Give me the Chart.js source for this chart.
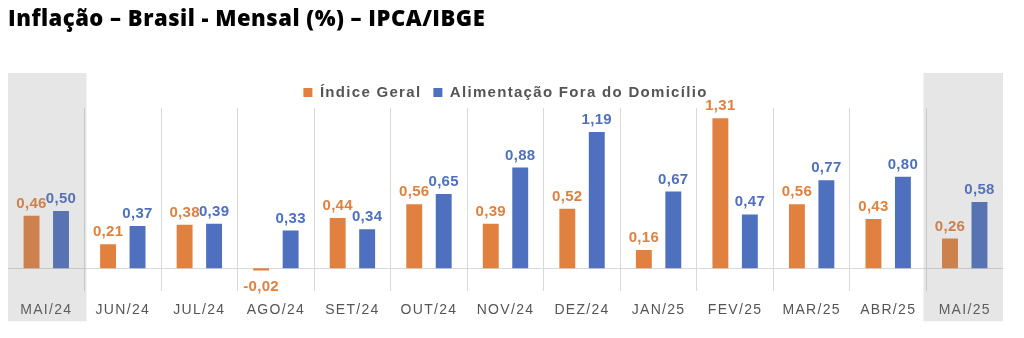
<!DOCTYPE html>
<html lang="pt-BR">
<head>
<meta charset="utf-8">
<title>IPCA mensal</title>
<script src="https://cdn.jsdelivr.net/npm/chart.js@4.4.1/dist/chart.umd.min.js"></script>
<style>
  html, body { margin: 0; padding: 0; background: #fff; }
  #wrap { position: relative; width: 1024px; height: 338px; overflow: hidden; }
  h1 {
    position: absolute; left: 8px; top: 3px; margin: 0;
    font: 800 22px/28px "Open Sans", Lato, sans-serif; color: #000;
    letter-spacing: 0.5px;
    z-index: 2;
  }
  canvas { position: absolute; left: 0; top: 0; }
</style>
</head>
<body>
<div id="wrap">
  <h1>Inflação – Brasil - Mensal (%) – IPCA/IBGE</h1>
  <canvas id="grafico" width="1024" height="338"></canvas>
</div>
<script>
const meses = ['MAI/24', 'JUN/24', 'JUL/24', 'AGO/24', 'SET/24', 'OUT/24', 'NOV/24',
  'DEZ/24', 'JAN/25', 'FEV/25', 'MAR/25', 'ABR/25', 'MAI/25'];
const indiceGeral = [0.46, 0.21, 0.38, -0.02, 0.44, 0.56, 0.39, 0.52, 0.16, 1.31, 0.56, 0.43, 0.26];
const alimentacaoFora = [0.50, 0.37, 0.39, 0.33, 0.34, 0.65, 0.88, 1.19, 0.67, 0.47, 0.77, 0.80, 0.58];
const mesesDestacados = [0, 12];

const LARANJA = '#E08140';
const AZUL = '#4E70BE';
const CINZA_TEXTO = '#555555';
const GRADE = '#D9D9D9';

const fmt = v => v.toFixed(2).replace('.', ',');

// espaçamento entre letras dos rótulos do eixo e da legenda
const espacamento = {
  id: 'espacamento',
  beforeUpdate(chart) { chart.ctx.letterSpacing = '1.3px'; },
  beforeDraw(chart) { chart.ctx.letterSpacing = '1.3px'; }
};

// linha do zero
const linhaZero = {
  id: 'linhaZero',
  beforeDatasetsDraw(chart) {
    const { ctx, chartArea, scales } = chart;
    const y = Math.round(scales.y.getPixelForValue(0)) + 0.5;
    ctx.save();
    ctx.strokeStyle = GRADE;
    ctx.lineWidth = 1;
    ctx.beginPath();
    ctx.moveTo(chartArea.left, y);
    ctx.lineTo(chartArea.right, y);
    ctx.stroke();
    ctx.restore();
  }
};

// valores acima (ou abaixo) das barras
const rotulos = {
  id: 'rotulos',
  afterDatasetsDraw(chart) {
    const { ctx } = chart;
    ctx.save();
    ctx.letterSpacing = '0.3px';
    ctx.font = 'bold 15px "Liberation Sans", Arial, sans-serif';
    ctx.textAlign = 'center';
    ctx.textBaseline = 'alphabetic';
    chart.data.datasets.forEach((ds, di) => {
      const meta = chart.getDatasetMeta(di);
      meta.data.forEach((bar, i) => {
        const v = ds.data[i];
        ctx.fillStyle = ds.backgroundColor;
        const y = v >= 0 ? bar.y - 8 : bar.y + 20;
        ctx.fillText(fmt(v), bar.x, y);
      });
    });
    ctx.restore();
  }
};

// faixas cinzas sobre o primeiro e o último mês
const destaque = {
  id: 'destaque',
  afterDraw(chart) {
    const { ctx, chartArea, scales } = chart;
    const x = scales.x;
    const n = meses.length;
    ctx.save();
    ctx.fillStyle = 'rgba(128,128,128,0.2)';
    mesesDestacados.forEach(i => {
      const meia = (x.getPixelForValue(1) - x.getPixelForValue(0)) / 2;
      let esq = x.getPixelForValue(i) - meia;
      let dir = x.getPixelForValue(i) + meia;
      if (i === 0) { esq = chartArea.left; dir += 2; }
      if (i === n - 1) { dir = chartArea.right; esq -= 3; }
      ctx.fillRect(esq, chartArea.top - 35, dir - esq, chartArea.bottom - chartArea.top + 65);
    });
    ctx.restore();
  }
};

new Chart(document.getElementById('grafico'), {
  type: 'bar',
  data: {
    labels: meses,
    datasets: [
      {
        label: 'Índice Geral',
        data: indiceGeral,
        backgroundColor: LARANJA,
        barPercentage: 0.54,
        categoryPercentage: 0.77
      },
      {
        label: 'Alimentação Fora do Domicílio',
        data: alimentacaoFora,
        backgroundColor: AZUL,
        barPercentage: 0.54,
        categoryPercentage: 0.77
      }
    ]
  },
  options: {
    responsive: false,
    animation: false,
    devicePixelRatio: 1,
    layout: { padding: { top: 73, left: 8, right: 21, bottom: 8 } },
    plugins: {
      legend: {
        position: 'top',
        maxHeight: 35,
        labels: {
          boxWidth: 9,
          boxHeight: 9,
          padding: 12,
          color: CINZA_TEXTO,
          font: { family: '"Liberation Sans", Arial, sans-serif', size: 15, weight: 'bold' }
        }
      },
      tooltip: { enabled: false }
    },
    scales: {
      x: {
        border: { display: false },
        grid: {
          offset: true,
          drawTicks: false,
          color: c => (c.type === 'tick' && c.index > 0) ? GRADE : 'rgba(0,0,0,0)'
        },
        ticks: {
          padding: 11,
          color: CINZA_TEXTO,
          maxRotation: 0,
          autoSkip: false,
          font: { family: '"Liberation Sans", Arial, sans-serif', size: 14 }
        }
      },
      y: {
        display: false,
        min: -0.2,
        max: 1.4
      }
    }
  },
  plugins: [espacamento, linhaZero, rotulos, destaque]
});
</script>
</body>
</html>
